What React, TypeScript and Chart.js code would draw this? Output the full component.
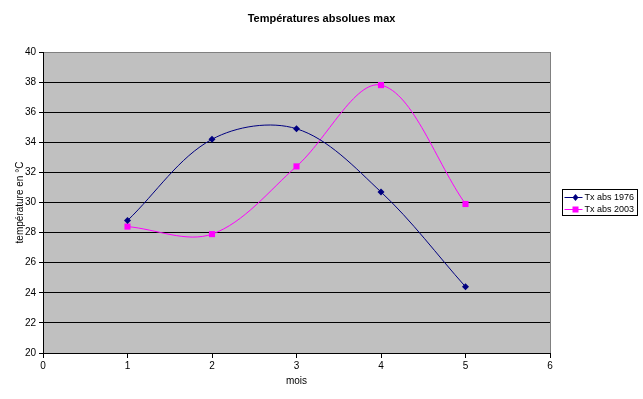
import React, { useEffect, useRef } from 'react';
import { Chart, registerables } from 'chart.js';

Chart.register(...registerables);

const chartTitle = 'Températures absolues max';
const xAxisTitle = 'mois';
const yAxisTitle = 'température en °C';
const months = [1, 2, 3, 4, 5];
const seriesNames = ['Tx abs 1976', 'Tx abs 2003'];
const tx1976 = [28.8, 34.2, 34.9, 30.7, 24.4];
const tx2003 = [28.4, 27.9, 32.4, 37.8, 29.9];
const xTickValues = [0, 1, 2, 3, 4, 5, 6];
const yTickValues = [20, 22, 24, 26, 28, 30, 32, 34, 36, 38, 40];

const FONT = "'Liberation Sans', Arial, sans-serif";
const PLOT_BG = '#C0C0C0';
const BORDER_GRAY = '#808080';

const plotBgPlugin = {
  id: 'plotBg',
  beforeDraw(chart: any) {
    const { ctx, chartArea: a } = chart;
    ctx.save();
    ctx.fillStyle = PLOT_BG;
    ctx.fillRect(a.left, a.top, a.right - a.left, a.bottom - a.top);
    ctx.restore();
  },
  afterDatasetsDraw(chart: any) {
    const { ctx, chartArea: a } = chart;
    ctx.save();
    ctx.strokeStyle = BORDER_GRAY;
    ctx.lineWidth = 1;
    ctx.beginPath();
    ctx.moveTo(Math.round(a.right) + 0.5, a.top);
    ctx.lineTo(Math.round(a.right) + 0.5, a.bottom);
    ctx.stroke();
    ctx.restore();
  },
};

const titlePlugin = {
  id: 'excelTitle',
  afterDraw(chart: any) {
    const { ctx, width } = chart;
    ctx.save();
    ctx.fillStyle = '#000000';
    ctx.font = `bold 11px ${FONT}`;
    ctx.textAlign = 'center';
    ctx.textBaseline = 'middle';
    ctx.fillText(chartTitle, width / 2, 19);
    ctx.restore();
  },
};

const legendPlugin = {
  id: 'excelLegend',
  afterDraw(chart: any) {
    const { ctx } = chart;
    const left = 562.5;
    const top = 189.5;
    const w = 75;
    const h = 26;
    ctx.save();
    ctx.fillStyle = '#FFFFFF';
    ctx.fillRect(left, top, w, h);
    ctx.strokeStyle = '#000000';
    ctx.lineWidth = 1;
    ctx.strokeRect(left, top, w, h);
    chart.data.datasets.forEach((ds: any, i: number) => {
      const cy = top + 8 + i * 12;
      ctx.strokeStyle = ds.borderColor;
      ctx.lineWidth = 1;
      ctx.beginPath();
      ctx.moveTo(left + 2, cy);
      ctx.lineTo(left + 20, cy);
      ctx.stroke();
      ctx.fillStyle = ds.pointBackgroundColor;
      const cx = left + 13;
      if (ds.pointStyle === 'rect') {
        ctx.fillRect(cx - 3, cy - 3, 6, 6);
      } else {
        ctx.beginPath();
        ctx.moveTo(cx, cy - 3.5);
        ctx.lineTo(cx + 3, cy);
        ctx.lineTo(cx, cy + 3.5);
        ctx.lineTo(cx - 3, cy);
        ctx.closePath();
        ctx.fill();
      }
      ctx.fillStyle = '#000000';
      ctx.font = `9px ${FONT}`;
      ctx.textBaseline = 'middle';
      ctx.textAlign = 'left';
      ctx.fillText(ds.label, left + 22, cy);
    });
    ctx.restore();
  },
};

export default function App() {
  const canvasRef = useRef<HTMLCanvasElement | null>(null);

  useEffect(() => {
    const canvas = canvasRef.current;
    if (!canvas) return;
    Chart.defaults.font.family = FONT;
    Chart.defaults.color = '#000000';

    const chart = new Chart(canvas, {
      type: 'line',
      data: {
        datasets: [
          {
            label: seriesNames[0],
            data: months.map((m, i) => ({ x: m, y: tx1976[i] })),
            borderColor: '#000080',
            backgroundColor: '#000080',
            pointBackgroundColor: '#000080',
            pointBorderColor: '#000080',
            pointStyle: 'rectRot',
            pointRadius: 3.5,
            pointBorderWidth: 0,
            borderWidth: 1,
            tension: 0.34,
            fill: false,
          },
          {
            label: seriesNames[1],
            data: months.map((m, i) => ({ x: m, y: tx2003[i] })),
            borderColor: '#FF00FF',
            backgroundColor: '#FF00FF',
            pointBackgroundColor: '#FF00FF',
            pointBorderColor: '#FF00FF',
            pointStyle: 'rect',
            pointRadius: 4.3,
            pointBorderWidth: 0,
            borderWidth: 1,
            tension: 0.34,
            fill: false,
          },
        ],
      },
      options: {
        responsive: false,
        animation: false,
        events: [],
        layout: { padding: { left: 0, right: 93, top: 52, bottom: 0 } },
        plugins: {
          legend: { display: false },
          tooltip: { enabled: false },
          title: { display: false },
        },
        scales: {
          x: {
            type: 'linear',
            min: 0,
            max: 6,
            afterBuildTicks(scale: any) {
              scale.ticks = xTickValues.map((v) => ({ value: v }));
            },
            afterFit(scale: any) {
              scale.height = 46;
            },
            ticks: {
              color: '#000000',
              font: { family: FONT, size: 10 },
              padding: 2,
              maxRotation: 0,
              autoSkip: false,
            },
            grid: {
              display: true,
              drawOnChartArea: false,
              drawTicks: true,
              tickLength: 5,
              tickColor: '#000000',
            },
            border: { display: true, color: '#000000', width: 1 },
            title: {
              display: true,
              text: xAxisTitle,
              color: '#000000',
              font: { family: FONT, size: 10 },
              padding: { top: 0, bottom: 12 },
            },
          },
          y: {
            type: 'linear',
            min: 20,
            max: 40,
            afterBuildTicks(scale: any) {
              scale.ticks = yTickValues.map((v) => ({ value: v }));
            },
            afterFit(scale: any) {
              scale.width = 43;
            },
            ticks: {
              color: '#000000',
              font: { family: FONT, size: 10 },
              padding: 3,
              autoSkip: false,
            },
            grid: {
              display: true,
              drawOnChartArea: true,
              drawTicks: true,
              tickLength: 4,
              tickColor: '#000000',
              color: (ctx: any) => (ctx.tick && ctx.tick.value === 40 ? BORDER_GRAY : '#000000'),
              lineWidth: 1,
            },
            border: { display: true, color: '#000000', width: 1 },
            title: {
              display: true,
              text: yAxisTitle,
              color: '#000000',
              font: { family: FONT, size: 10 },
              padding: { top: 14, bottom: 0 },
            },
          },
        },
      },
      plugins: [plotBgPlugin, titlePlugin, legendPlugin],
    } as any);

    return () => {
      chart.destroy();
    };
  }, []);

  return (
    <div style={{ position: 'fixed', left: 0, top: 0, width: 643, height: 399, background: '#FFFFFF' }}>
      <canvas ref={canvasRef} width={643} height={399} style={{ display: 'block', width: 643, height: 399 }} />
    </div>
  );
}
